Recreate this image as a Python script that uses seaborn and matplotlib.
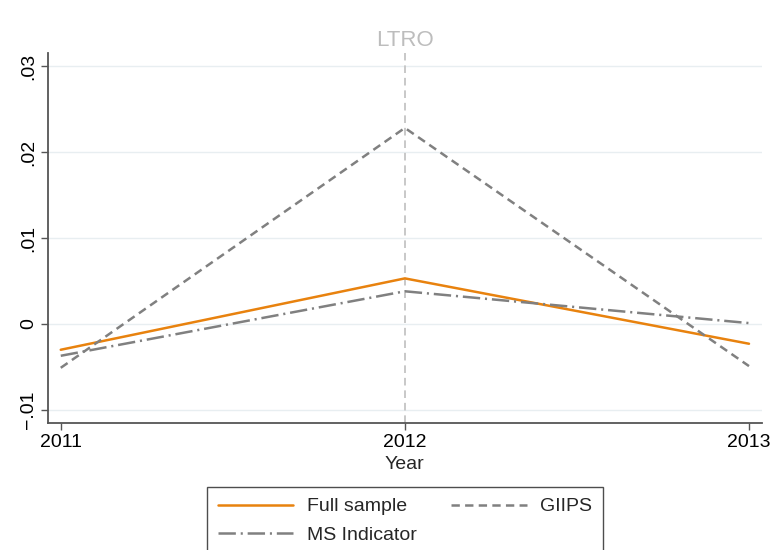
import matplotlib
matplotlib.use("Agg")
import matplotlib.pyplot as plt
import seaborn as sns
import pandas as pd
from matplotlib.lines import Line2D

years = [2011, 2012, 2013]
full_sample = [-0.0030, 0.0053, -0.0023]
giips = [-0.0051, 0.0228, -0.0049]
ms_indicator = [-0.0037, 0.0038, 0.0001]
series_names = ["Full sample", "GIIPS", "MS Indicator"]
y_ticks = [-0.01, 0.0, 0.01, 0.02, 0.03]
y_tick_labels = ["\u2212.01", "0", ".01", ".02", ".03"]
event_year = 2012
event_label = "LTRO"

sns.set_theme(style="white")
plt.rcParams["font.family"] = ["Liberation Sans", "DejaVu Sans"]
plt.rcParams["lines.scale_dashes"] = False

FS = 14
LW = 1.8

fig = plt.figure(figsize=(7.72, 5.5), dpi=100)
ax = fig.add_axes([0.0622, 0.2315, 0.9245, 0.6721])

df = pd.DataFrame({
    "Year": years * 3,
    "value": full_sample + giips + ms_indicator,
    "series": [s for s in series_names for _ in years],
})

styles = {
    "Full sample": dict(color="#e8820e", dashes=None),
    "GIIPS": dict(color="#808080", dashes=(6.0, 3.8)),
    "MS Indicator": dict(color="#808080", dashes=(12.5, 3.5, 1.5, 3.5)),
}

for name in series_names:
    sub = df[df["series"] == name]
    st = styles[name]
    kw = {}
    if st["dashes"] is not None:
        kw["dashes"] = st["dashes"]
    sns.lineplot(data=sub, x="Year", y="value", ax=ax, color=st["color"],
                 linewidth=LW, legend=False, **kw)

# grid and event marker
for yt in y_ticks:
    ax.axhline(yt, color="#e8eef1", linewidth=1.0, zorder=0)
ax.axvline(event_year, color="#c4c4c4", linewidth=1.3, zorder=1,
           dashes=(5.5, 3.5))
ax.text(event_year, 0.0330, event_label, ha="center", va="center",
        color="#bdbdbd", fontsize=16, transform=ax.transData, clip_on=False)

ax.set_xlim(2010.963, 2013.037)
ax.set_ylim(-0.01148, 0.03151)
ax.set_xticks(years)
ax.set_xticklabels([str(y) for y in years], fontsize=FS)
ax.set_yticks(y_ticks)
ax.set_yticklabels(y_tick_labels, fontsize=FS, rotation=90, va="center")
ax.set_xlabel("Year", fontsize=FS, labelpad=4)
ax.set_ylabel("")
ax.grid(False)

for side in ["top", "right"]:
    ax.spines[side].set_visible(False)
for side in ["left", "bottom"]:
    ax.spines[side].set_color("#555555")
    ax.spines[side].set_linewidth(1.3)
ax.tick_params(axis="x", which="both", direction="out", length=5,
               width=1.0, color="#555555", labelcolor="black", pad=3,
               bottom=True)
ax.tick_params(axis="y", which="both", direction="out", length=5,
               width=1.0, color="#555555", labelcolor="black", pad=3,
               left=True)

handles = []
for name in series_names:
    st = styles[name]
    ln = Line2D([0], [0], color=st["color"], linewidth=LW)
    if st["dashes"] is not None:
        ln.set_dashes(st["dashes"])
    handles.append(ln)

leg = fig.legend([handles[i] for i in [0, 2, 1]],
                 [series_names[i] for i in [0, 2, 1]],
                 ncol=2, loc="upper center", bbox_to_anchor=(0.5246, 0.1145),
                 fontsize=FS, frameon=True, fancybox=False,
                 handlelength=3.9, handletextpad=0.7, columnspacing=1.75,
                 borderpad=0.55, labelspacing=0.55, borderaxespad=0)
leg.get_frame().set_edgecolor("#222222")
leg.get_frame().set_linewidth(1.0)

fig.savefig("out.png", dpi=100)
